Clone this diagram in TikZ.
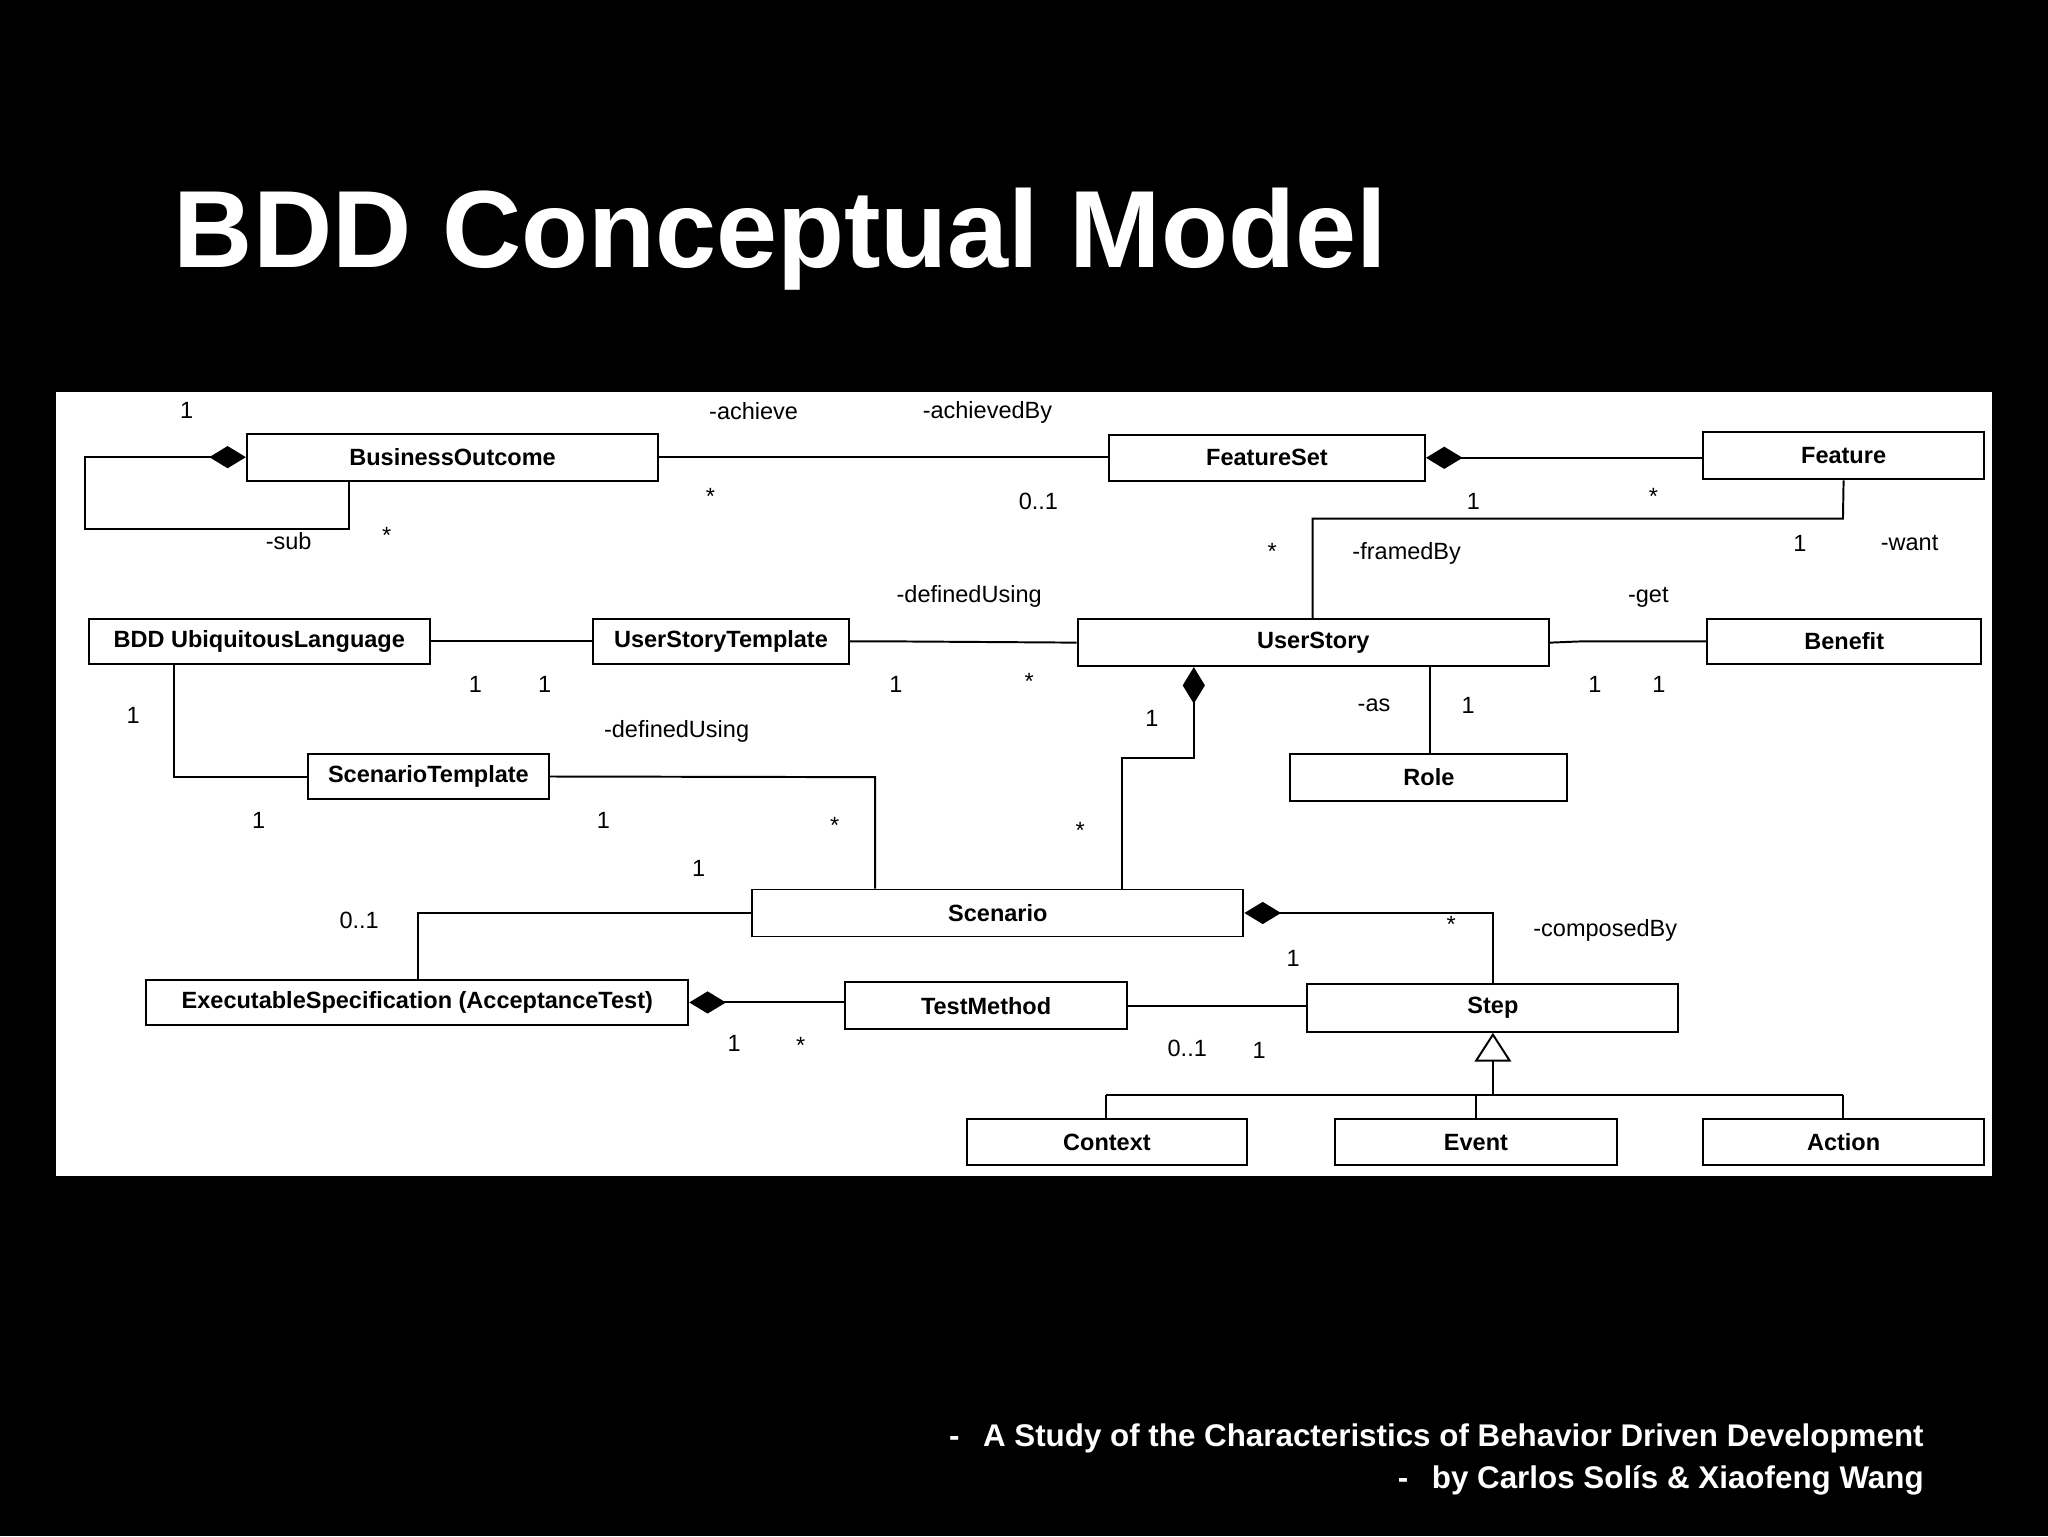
\documentclass[tikz,border=0pt]{standalone}
\usepackage{fontspec}
\setmainfont{Liberation Sans}
\usetikzlibrary{arrows.meta}
\begin{document}
\begin{tikzpicture}[x=1pt,y=-1pt,
  box/.style={draw=black,line width=1.5pt,fill=white,inner sep=0pt,font=\fontsize{18}{20}\selectfont\bfseries},
  conn/.style={line width=1.5pt,black},
  dia/.style={{Diamond[length=28pt,width=17pt]}-},
  gen/.style={{Triangle[open,length=22pt,width=28pt,fill=white]}-},
  lbl/.style={font=\fontsize{18}{20}\selectfont,inner sep=0pt}]
\fill[black] (0,0) rectangle (1568,1176);
\useasboundingbox (0,0) rectangle (1568,1176);
\node[anchor=west,text=white,font=\fontsize{84}{90}\selectfont\bfseries,inner sep=0pt] (title) at (133,183) {BDD Conceptual Model};
\fill[white] (43,300) rectangle (1525,900);
% boxes
\node[box,minimum width=315pt,minimum height=36pt] (bo) at (346.5,350) {BusinessOutcome};
\node[box,minimum width=242pt,minimum height=35pt] (fs) at (970,350.5) {FeatureSet};
\node[box,minimum width=215pt,minimum height=36pt] (fe) at (1411.5,349) {Feature};
\node[box,minimum width=261pt,minimum height=34pt] (ul) at (198.5,491) {BDD UbiquitousLanguage};
\node[box,minimum width=196pt,minimum height=34pt] (ust) at (552,491) {UserStoryTemplate};
\node[box,minimum width=361pt,minimum height=36pt] (us) at (1005.5,492) {UserStory};
\node[box,minimum width=210pt,minimum height=34pt] (be) at (1412,491) {Benefit};
\node[box,minimum width=184pt,minimum height=35pt] (st) at (328,594.5) {ScenarioTemplate};
\node[box,minimum width=212pt,minimum height=36pt] (ro) at (1094,595) {Role};
\node[box,minimum width=376pt,minimum height=36pt] (sc) at (764,699) {Scenario};
\node[box,minimum width=415pt,minimum height=35pt] (es) at (319.5,767.5) {ExecutableSpecification (AcceptanceTest)};
\node[box,minimum width=216pt,minimum height=36pt] (tm) at (755,770) {TestMethod};
\node[box,minimum width=284pt,minimum height=37pt] (stp) at (1143,771.5) {Step};
\node[box,minimum width=215pt,minimum height=35pt] (cx) at (847.5,874.5) {Context};
\node[box,minimum width=216pt,minimum height=35pt] (ev) at (1130,874.5) {Event};
\node[box,minimum width=215pt,minimum height=35pt] (ac) at (1411.5,874.5) {Action};
% helper coordinates
\coordinate (x267) at (267,0);
\coordinate (x1005) at (1005,0);
\coordinate (x914) at (914,0);
\coordinate (x859) at (859,0);
\coordinate (x1095) at (1095,0);
\coordinate (x133) at (133,0);
\coordinate (x670) at (670,0);
\coordinate (x320) at (320,0);
\coordinate (x1143) at (1143,0);
% connectors
\draw[conn,dia] (bo.west) -- (65,350) -- (65,405) -- (267,405) -- (bo.south -| x267);
\draw[conn] (bo.east) -- (fs.west |- bo.east);
\draw[conn,dia] (fs.east) -- (fe.west |- fs.east);
\draw[conn] (fe.south) -- (1411,397) -- (1005,397) -- (us.north -| x1005);
\draw[conn] (ul.east) -- (ust.west);
\draw[conn] (ust.east) -- (676,491) -- (us.west);
\draw[conn] (us.east) -- (1212,491) -- (be.west);
\draw[conn,dia] (us.south -| x914) -- (914,580) -- (859,580) -- (sc.north -| x859);
\draw[conn] (us.south -| x1095) -- (ro.north -| x1095);
\draw[conn] (ul.south -| x133) -- (133,595) -- (st.west |- 0,595);
\draw[conn] (st.east) -- (670,595) -- (sc.north -| x670);
\draw[conn] (sc.west) -- (320,699) -- (es.north -| x320);
\draw[conn,dia] (sc.east) -- (1143,699) -- (stp.north);
\draw[conn,dia] (es.east) -- (tm.west |- es.east);
\draw[conn] (tm.east) -- (890,770) -- (stp.west |- 0,770);
\draw[conn,gen] (stp.south) -- (1143,838);
\draw[conn] (847,838) -- (1411,838);
\draw[conn] (847,838) -- (cx.north -| 847,0);
\draw[conn] (1130,838) -- (ev.north);
\draw[conn] (1411,838) -- (ac.north -| 1411,0);
% labels
\foreach \x/\y/\t in {143/314/1, 577/315/-achieve, 756/316/-achievedBy, 544/380/*, 795/384/0..1,
  221/414/-sub, 296/410/*, 1128/384/1, 1266/380/*, 974/422/*, 1077/424/-framedBy, 1378/416/1,
  1462/416/-want, 742/457/-definedUsing, 1262/457/-get, 364/524/1, 417/524/1, 686/524/1, 788/522/*,
  1221/524/1, 1270/524/1, 1052/540/-as, 1124/540/1, 102/548/1, 518/560/-definedUsing, 882/550/1,
  198/628/1, 462/628/1, 639/632/*, 827/636/*, 535/665/1, 275/705/0..1, 1111/708/*, 1229/712/-composedBy,
  990/734/1, 562/799/1, 613/800/*, 909/803/0..1, 964/804/1}
  \node[lbl] at (\x,\y) {\t};
% footer
\node[anchor=east,text=white,font=\fontsize{24}{26}\selectfont\bfseries,inner sep=0pt] (f1) at (1473,1101) {-\hspace{18pt}A Study of the Characteristics of Behavior Driven Development};
\node[anchor=east,text=white,font=\fontsize{24}{26}\selectfont\bfseries,inner sep=0pt] (f2) at (1473,1133) {-\hspace{18pt}by Carlos Solís \& Xiaofeng Wang};
\end{tikzpicture}
\end{document}
